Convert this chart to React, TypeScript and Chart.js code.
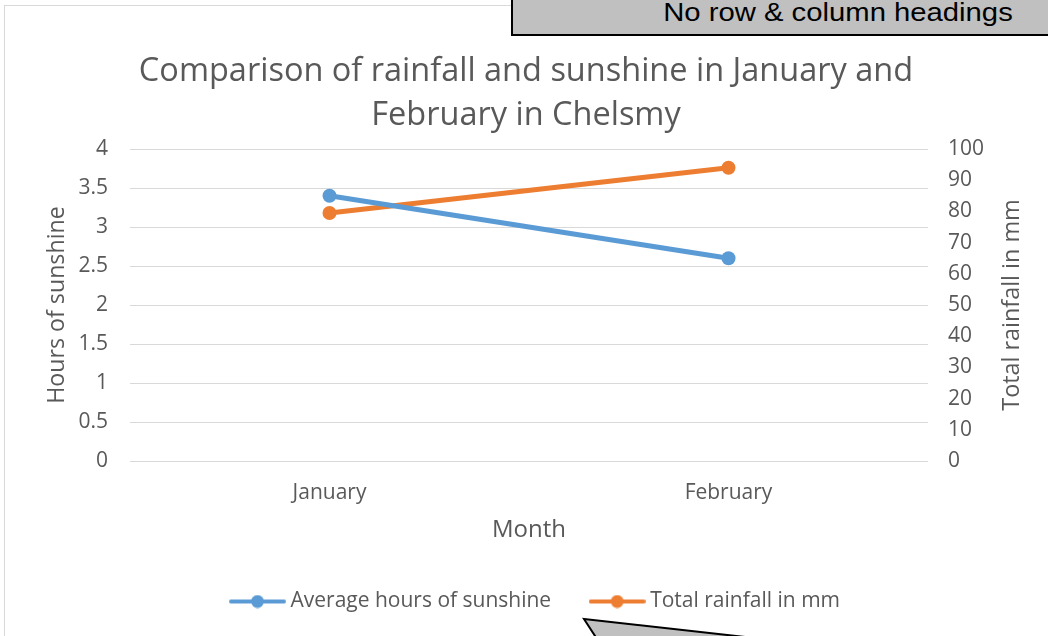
import React, { useEffect, useRef } from "react";
import { Chart, registerables } from "chart.js";

Chart.register(...registerables);

const months = ["January", "February"];
const sunshineHours = [3.4, 2.6];
const rainfallMm = [79.5, 94];
const seriesNames = ["Average hours of sunshine", "Total rainfall in mm"];
const titleLines = ["Comparison of rainfall and sunshine in January and", "February in Chelsmy"];
const xAxisTitle = "Month";
const leftAxisTitle = "Hours of sunshine";
const rightAxisTitle = "Total rainfall in mm";
const calloutText = "No row & column headings";

const BLUE = "#5B9BD5";
const ORANGE = "#ED7D31";
const TEXT = "#595959";
const GRID = "#D9D9D9";
const FONT = "'Open Sans', Lato, sans-serif";

function legendMarker(color: string): HTMLCanvasElement {
  const c = document.createElement("canvas");
  c.width = 57;
  c.height = 14;
  const ctx = c.getContext("2d")!;
  ctx.strokeStyle = color;
  ctx.lineWidth = 4;
  ctx.lineCap = "round";
  ctx.beginPath();
  ctx.moveTo(2, 7);
  ctx.lineTo(55, 7);
  ctx.stroke();
  ctx.fillStyle = color;
  ctx.beginPath();
  ctx.arc(28.5, 7, 6.5, 0, Math.PI * 2);
  ctx.fill();
  return c;
}

const rightTitlePlugin = {
  id: "rightTitle",
  afterLayout(chart: any) {
    if (chart.legend) {
      chart.legend.left += 3.5;
      chart.legend.right += 3.5;
    }
    if (chart.titleBlock) {
      chart.titleBlock.left -= 8;
      chart.titleBlock.right -= 8;
    }
  },
  afterDraw(chart: any) {
    const s = chart.scales.y1;
    const ctx = chart.ctx;
    ctx.save();
    ctx.translate(s.right - 16, (chart.chartArea.top + chart.chartArea.bottom) / 2);
    ctx.rotate(-Math.PI / 2);
    ctx.font = `23.4px ${FONT}`;
    ctx.fillStyle = TEXT;
    ctx.textAlign = "center";
    ctx.textBaseline = "middle";
    ctx.fillText(rightAxisTitle, 0, 0);
    ctx.restore();
  },
};

export default function App() {
  const ref = useRef<HTMLCanvasElement>(null);

  useEffect(() => {
    if (!ref.current) return;
    const colors = [BLUE, ORANGE];
    const markers = colors.map(legendMarker);
    const chart = new Chart(ref.current, {
      type: "line",
      data: {
        labels: months,
        datasets: [
          {
            label: seriesNames[0],
            data: sunshineHours,
            borderColor: BLUE,
            backgroundColor: BLUE,
            borderWidth: 5,
            pointRadius: 7,
            pointBorderWidth: 0,
            pointBackgroundColor: BLUE,
            yAxisID: "y",
          },
          {
            label: seriesNames[1],
            data: rainfallMm,
            borderColor: ORANGE,
            backgroundColor: ORANGE,
            borderWidth: 5,
            pointRadius: 7,
            pointBorderWidth: 0,
            pointBackgroundColor: ORANGE,
            yAxisID: "y1",
          },
        ],
      },
      options: {
        responsive: false,
        animation: false,
        devicePixelRatio: 1,
        layout: { padding: { left: 40, right: 20, top: 0, bottom: 14 } },
        plugins: {
          tooltip: { enabled: false },
          title: {
            display: true,
            text: titleLines,
            color: TEXT,
            font: { family: FONT, size: 32.5, weight: "normal", lineHeight: 44 / 32.5 },
            padding: { top: 50, bottom: 11 },
          },
          legend: {
            position: "bottom",
            labels: {
              usePointStyle: true,
              pointStyleWidth: 45,
              padding: 43.5,
              color: TEXT,
              font: { family: FONT, size: 21 },
              generateLabels: (ch: any) =>
                ch.data.datasets.map((ds: any, i: number) => ({
                  text: ds.label,
                  fillStyle: colors[i],
                  strokeStyle: colors[i],
                  lineWidth: 0,
                  pointStyle: markers[i],
                  datasetIndex: i,
                  hidden: false,
                  fontColor: TEXT,
                })),
            },
          },
        },
        scales: {
          x: {
            type: "category",
            offset: true,
            grid: { display: false, drawTicks: false, tickLength: 0 },
            border: { display: false },
            ticks: { color: TEXT, font: { family: FONT, size: 21 }, padding: 19.5, maxRotation: 0 },
            title: {
              display: true,
              text: xAxisTitle,
              color: TEXT,
              font: { family: FONT, size: 24, lineHeight: 20 / 24 },
              padding: { top: 0, bottom: 7 },
            },
            afterFit: (s: any) => {
              s.height = 86.5;
            },
          },
          y: {
            position: "left",
            min: 0,
            max: 4,
            ticks: {
              stepSize: 0.5,
              padding: 22,
              color: TEXT,
              font: { family: FONT, size: 21 },
              callback: (v: any) => String(v),
            },
            grid: { color: GRID, drawTicks: false, tickLength: 0 },
            border: { display: false },
            title: {
              display: true,
              text: leftAxisTitle,
              color: TEXT,
              font: { family: FONT, size: 23.2, lineHeight: 1.2 },
              padding: { top: 3, bottom: 0 },
            },
            afterFit: (s: any) => {
              s.width = 90;
            },
          },
          y1: {
            position: "right",
            min: 0,
            max: 100,
            ticks: { stepSize: 10, padding: 20, color: TEXT, font: { family: FONT, size: 21 } },
            grid: { display: false, drawTicks: false, drawOnChartArea: false, tickLength: 0 },
            border: { display: false },
            title: { display: false },
            afterFit: (s: any) => {
              s.width = 100;
            },
          },
        },
      } as any,
      plugins: [rightTitlePlugin],
    });
    return () => chart.destroy();
  }, []);

  return (
    <div
      style={{
        position: "fixed",
        left: 0,
        top: 0,
        width: 1048,
        height: 636,
        overflow: "hidden",
        background: "#ffffff",
      }}
    >
      <div
        style={{
          position: "absolute",
          left: 4,
          top: 5,
          width: 1100,
          height: 700,
          border: "1px solid #D9D9D9",
          boxSizing: "border-box",
        }}
      />
      <canvas ref={ref} width={1048} height={636} style={{ position: "absolute", left: 0, top: 0 }} />
      <div
        style={{
          position: "absolute",
          left: 511,
          top: -10,
          width: 600,
          height: 46,
          background: "#C0C0C0",
          border: "2px solid #000",
          boxSizing: "border-box",
        }}
      />
      <div
        style={{
          position: "absolute",
          right: 35,
          top: 0,
          fontFamily: "'Liberation Sans', Arial, sans-serif",
          fontSize: 25,
          lineHeight: "25px",
          color: "#000",
          whiteSpace: "nowrap",
          transform: "scaleX(1.17)",
          transformOrigin: "right center",
        }}
      >
        {calloutText}
      </div>
      <svg
        width={1048}
        height={636}
        style={{ position: "absolute", left: 0, top: 0, pointerEvents: "none" }}
      >
        <polygon points="584,619 969,662 612,662" fill="#C0C0C0" stroke="#000" strokeWidth={2} />
      </svg>
    </div>
  );
}
